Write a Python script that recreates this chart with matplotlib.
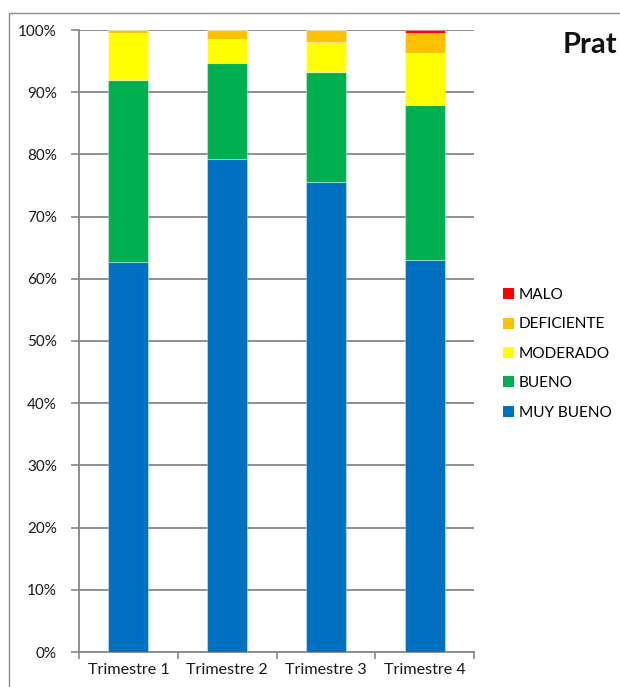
import matplotlib
matplotlib.use("Agg")
import matplotlib.pyplot as plt
from matplotlib.patches import Rectangle, Patch
from matplotlib.ticker import PercentFormatter, FixedLocator
import numpy as np

plt.rcParams['font.family'] = ['Lato', 'DejaVu Sans']

# Quarterly share of each quality class (percent of total)
quarters = ["Trimestre 1", "Trimestre 2", "Trimestre 3", "Trimestre 4"]
muy_bueno = [62.7, 79.3, 75.6, 63.1]
bueno = [29.2, 15.4, 17.6, 24.8]
moderado = [7.6, 3.8, 4.9, 8.35]
deficiente = [0.5, 1.5, 1.9, 3.25]
malo = [0.0, 0.0, 0.0, 0.5]

series_names = ["MUY BUENO", "BUENO", "MODERADO", "DEFICIENTE", "MALO"]
series_values = [muy_bueno, bueno, moderado, deficiente, malo]
series_colors = ["#0070C0", "#00B050", "#FFFF00", "#FFC000", "#FF0000"]

W, H = 620, 687
fig = plt.figure(figsize=(W / 100, H / 100), dpi=100)
fig.patch.set_facecolor("white")

# Outer frame of the chart object
fig.add_artist(Rectangle((9 / W, -0.2), 1.2, (H - 13) / H + 0.2,
                         transform=fig.transFigure, fill=False,
                         edgecolor="#8C8C8C", linewidth=1.0, clip_on=False))

ax = fig.add_axes([79 / W, 35 / H, (474 - 79) / W, (652 - 30) / H])

x = np.arange(len(quarters))
bottom = np.zeros(len(quarters))
for name, vals, col in zip(series_names, series_values, series_colors):
    vals = np.array(vals, dtype=float)
    ax.bar(x, vals, width=0.405, bottom=bottom, color=col,
           edgecolor=(1, 1, 1, 0.35), linewidth=0.8, label=name, zorder=3)
    bottom += vals

ax.set_xlim(-0.5, len(quarters) - 0.5)
ax.set_ylim(0, 100)
ax.yaxis.set_major_locator(FixedLocator(np.arange(0, 101, 10)))
ax.yaxis.set_major_formatter(PercentFormatter(decimals=0))
ax.grid(axis="y", color="#878787", linewidth=1.3, zorder=0)
ax.set_axisbelow(True)

ax.set_xticks(x)
ax.set_xticklabels(quarters)
ax.xaxis.set_minor_locator(FixedLocator(np.arange(-0.5, len(quarters), 1.0)))
ax.tick_params(axis="x", which="major", length=0, pad=8, labelsize=11.6, colors="#1A1A1A")
ax.tick_params(axis="x", which="minor", length=5, width=1.2, color="#878787")
ax.tick_params(axis="y", length=6, width=1.2, color="#878787", pad=10,
               labelsize=11.0, labelcolor="#1A1A1A")

for side in ("top", "right"):
    ax.spines[side].set_visible(False)
for side in ("left", "bottom"):
    ax.spines[side].set_color("#878787")
    ax.spines[side].set_linewidth(1.3)

handles = [Patch(facecolor=c, edgecolor="none") for c in series_colors][::-1]
labels = series_names[::-1]
fig.legend(handles, labels, loc="upper left",
           bbox_to_anchor=(503 / W, (H - 288) / H), frameon=False,
           handlelength=0.72, handleheight=0.72, handletextpad=0.3,
           labelspacing=1.0, fontsize=11.1, borderaxespad=0, borderpad=0)

fig.text(563 / W, (H - 53.3) / H, "Prat", fontsize=21, fontweight="bold",
         ha="left", va="baseline", color="#111111")

fig.savefig("out.png", dpi=100, facecolor="white")
